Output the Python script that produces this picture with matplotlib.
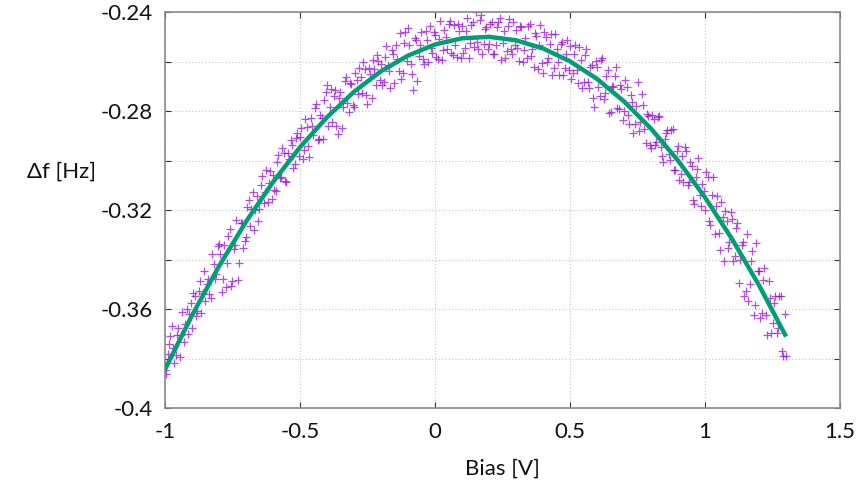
import matplotlib
matplotlib.use("Agg")
import matplotlib.pyplot as plt

plt.rcParams["font.family"] = ["Lato", "DejaVu Sans"]
plt.rcParams["axes.unicode_minus"] = False

# measured frequency shift vs bias (first sweep)
bias = [
    -1.00, -0.99, -0.98, -0.97, -0.96, -0.95, -0.94, -0.93, -0.92, -0.91,
    -0.90, -0.89, -0.88, -0.87, -0.86, -0.85, -0.84, -0.83, -0.82, -0.81,
    -0.80, -0.79, -0.78, -0.77, -0.76, -0.75, -0.74, -0.73, -0.72, -0.71,
    -0.70, -0.69, -0.68, -0.67, -0.66, -0.65, -0.64, -0.63, -0.62, -0.61,
    -0.60, -0.59, -0.58, -0.57, -0.56, -0.55, -0.54, -0.53, -0.52, -0.51,
    -0.50, -0.49, -0.48, -0.47, -0.46, -0.45, -0.44, -0.43, -0.42, -0.41,
    -0.40, -0.39, -0.38, -0.37, -0.36, -0.35, -0.34, -0.33, -0.32, -0.31,
    -0.30, -0.29, -0.28, -0.27, -0.26, -0.25, -0.24, -0.23, -0.22, -0.21,
    -0.20, -0.19, -0.18, -0.17, -0.16, -0.15, -0.14, -0.13, -0.12, -0.11,
    -0.10, -0.09, -0.08, -0.07, -0.06, -0.05, -0.04, -0.03, -0.02, -0.01,
    0.00, 0.01, 0.02, 0.03, 0.04, 0.05, 0.06, 0.07, 0.08, 0.09,
    0.10, 0.11, 0.12, 0.13, 0.14, 0.15, 0.16, 0.17, 0.18, 0.19,
    0.20, 0.21, 0.22, 0.23, 0.24, 0.25, 0.26, 0.27, 0.28, 0.29,
    0.30, 0.31, 0.32, 0.33, 0.34, 0.35, 0.36, 0.37, 0.38, 0.39,
    0.40, 0.41, 0.42, 0.43, 0.44, 0.45, 0.46, 0.47, 0.48, 0.49,
    0.50, 0.51, 0.52, 0.53, 0.54, 0.55, 0.56, 0.57, 0.58, 0.59,
    0.60, 0.61, 0.62, 0.63, 0.64, 0.65, 0.66, 0.67, 0.68, 0.69,
    0.70, 0.71, 0.72, 0.73, 0.74, 0.75, 0.76, 0.77, 0.78, 0.79,
    0.80, 0.81, 0.82, 0.83, 0.84, 0.85, 0.86, 0.87, 0.88, 0.89,
    0.90, 0.91, 0.92, 0.93, 0.94, 0.95, 0.96, 0.97, 0.98, 0.99,
    1.00, 1.01, 1.02, 1.03, 1.04, 1.05, 1.06, 1.07, 1.08, 1.09,
    1.10, 1.11, 1.12, 1.13, 1.14, 1.15, 1.16, 1.17, 1.18, 1.19,
    1.20, 1.21, 1.22, 1.23, 1.24, 1.25, 1.26, 1.27, 1.28, 1.29, 1.30,
]
df = [
    -0.3844, -0.3782, -0.3710, -0.3759, -0.3787, -0.3675, -0.3703, -0.3731, -0.3600, -0.3618,
    -0.3676, -0.3546, -0.3606, -0.3486, -0.3536, -0.3567, -0.3477, -0.3557, -0.3417, -0.3457,
    -0.3337, -0.3529, -0.3341, -0.3413, -0.3275, -0.3487, -0.3339, -0.3481, -0.3253, -0.3355,
    -0.3307, -0.3161, -0.3195, -0.3279, -0.3143, -0.3197, -0.3061, -0.3125, -0.3169, -0.3043,
    -0.3057, -0.3123, -0.2979, -0.3065, -0.2971, -0.3086, -0.2992, -0.2938, -0.3014, -0.2890,
    -0.2906, -0.2994, -0.2832, -0.2940, -0.2828, -0.2896, -0.2773, -0.2911, -0.2829, -0.2757,
    -0.2695, -0.2785, -0.2844, -0.2714, -0.2894, -0.2724, -0.2783, -0.2663, -0.2803, -0.2692,
    -0.2782, -0.2674, -0.2626, -0.2727, -0.2629, -0.2771, -0.2652, -0.2594, -0.2696, -0.2597,
    -0.2609, -0.2683, -0.2536, -0.2640, -0.2554, -0.2687, -0.2591, -0.2485, -0.2648, -0.2482,
    -0.2466, -0.2611, -0.2716, -0.2512, -0.2577, -0.2482, -0.2608, -0.2513, -0.2458, -0.2564,
    -0.2491, -0.2588, -0.2436, -0.2553, -0.2501, -0.2448, -0.2566, -0.2453, -0.2581, -0.2478,
    -0.2456, -0.2545, -0.2424, -0.2523, -0.2442, -0.2401, -0.2551, -0.2410, -0.2530, -0.2460,
    -0.2530, -0.2440, -0.2571, -0.2462, -0.2423, -0.2525, -0.2586, -0.2458, -0.2550, -0.2442,
    -0.2474, -0.2596, -0.2459, -0.2552, -0.2585, -0.2448, -0.2551, -0.2485, -0.2629, -0.2453,
    -0.2647, -0.2501, -0.2586, -0.2490, -0.2625, -0.2550, -0.2656, -0.2521, -0.2627, -0.2513,
    -0.2539, -0.2645, -0.2532, -0.2688, -0.2595, -0.2682, -0.2549, -0.2707, -0.2614, -0.2782,
    -0.2620, -0.2738, -0.2587, -0.2725, -0.2634, -0.2803, -0.2702, -0.2622, -0.2791, -0.2711,
    -0.2801, -0.2701, -0.2852, -0.2762, -0.2853, -0.2684, -0.2845, -0.2776, -0.2927, -0.2819,
    -0.2951, -0.2833, -0.2925, -0.2818, -0.2980, -0.2913, -0.2876, -0.2999, -0.2873, -0.3036,
    -0.2940, -0.3054, -0.3088, -0.2962, -0.3087, -0.3022, -0.3177, -0.3032, -0.3137, -0.3093,
    -0.3199, -0.3065, -0.3262, -0.3068, -0.3185, -0.3292, -0.3169, -0.3406, -0.3243, -0.3330,
    -0.3237, -0.3385, -0.3253, -0.3402, -0.3330, -0.3528, -0.3567, -0.3406, -0.3625, -0.3334,
    -0.3444, -0.3614, -0.3434, -0.3704, -0.3555, -0.3655, -0.3546, -0.3677, -0.3548, -0.3790, -0.3791,
]

# second sweep, interleaved bias points
bias2 = [
    -0.995, -0.985, -0.975, -0.965, -0.955, -0.945, -0.935, -0.925, -0.915, -0.905,
    -0.895, -0.885, -0.875, -0.865, -0.855, -0.845, -0.835, -0.825, -0.815, -0.805,
    -0.795, -0.785, -0.775, -0.765, -0.755, -0.745, -0.735, -0.725, -0.715, -0.705,
    -0.695, -0.685, -0.675, -0.665, -0.655, -0.645, -0.635, -0.625, -0.615, -0.605,
    -0.595, -0.585, -0.575, -0.565, -0.555, -0.545, -0.535, -0.525, -0.515, -0.505,
    -0.495, -0.485, -0.475, -0.465, -0.455, -0.445, -0.435, -0.425, -0.415, -0.405,
    -0.395, -0.385, -0.375, -0.365, -0.355, -0.345, -0.335, -0.325, -0.315, -0.305,
    -0.295, -0.285, -0.275, -0.265, -0.255, -0.245, -0.235, -0.225, -0.215, -0.205,
    -0.195, -0.185, -0.175, -0.165, -0.155, -0.145, -0.135, -0.125, -0.115, -0.105,
    -0.095, -0.085, -0.075, -0.065, -0.055, -0.045, -0.035, -0.025, -0.015, -0.005,
    0.005, 0.015, 0.025, 0.035, 0.045, 0.055, 0.065, 0.075, 0.085, 0.095,
    0.105, 0.115, 0.125, 0.135, 0.145, 0.155, 0.165, 0.175, 0.185, 0.195,
    0.205, 0.215, 0.225, 0.235, 0.245, 0.255, 0.265, 0.275, 0.285, 0.295,
    0.305, 0.315, 0.325, 0.335, 0.345, 0.355, 0.365, 0.375, 0.385, 0.395,
    0.405, 0.415, 0.425, 0.435, 0.445, 0.455, 0.465, 0.475, 0.485, 0.495,
    0.505, 0.515, 0.525, 0.535, 0.545, 0.555, 0.565, 0.575, 0.585, 0.595,
    0.605, 0.615, 0.625, 0.635, 0.645, 0.655, 0.665, 0.675, 0.685, 0.695,
    0.705, 0.715, 0.725, 0.735, 0.745, 0.755, 0.765, 0.775, 0.785, 0.795,
    0.805, 0.815, 0.825, 0.835, 0.845, 0.855, 0.865, 0.875, 0.885, 0.895,
    0.905, 0.915, 0.925, 0.935, 0.945, 0.955, 0.965, 0.975, 0.985, 0.995,
    1.005, 1.015, 1.025, 1.035, 1.045, 1.055, 1.065, 1.075, 1.085, 1.095,
    1.105, 1.115, 1.125, 1.135, 1.145, 1.155, 1.165, 1.175, 1.185, 1.195,
    1.205, 1.215, 1.225, 1.235, 1.245, 1.255, 1.265, 1.275, 1.285, 1.295,
]
df2 = [
    -0.3863, -0.3741, -0.3670, -0.3818, -0.3706, -0.3794, -0.3612, -0.3661, -0.3699, -0.3577,
    -0.3536, -0.3626, -0.3526, -0.3616, -0.3447, -0.3497, -0.3537, -0.3377, -0.3477, -0.3347,
    -0.3378, -0.3480, -0.3512, -0.3304, -0.3506, -0.3358, -0.3240, -0.3412, -0.3254, -0.3326,
    -0.3189, -0.3263, -0.3127, -0.3201, -0.3245, -0.3099, -0.3173, -0.3037, -0.3091, -0.3155,
    -0.3120, -0.3006, -0.3072, -0.2948, -0.3083, -0.2969, -0.2915, -0.3031, -0.2907, -0.2983,
    -0.2870, -0.2958, -0.2866, -0.2984, -0.2862, -0.2789, -0.2917, -0.2815, -0.2913, -0.2721,
    -0.2860, -0.2710, -0.2739, -0.2859, -0.2749, -0.2868, -0.2678, -0.2768, -0.2688, -0.2777,
    -0.2648, -0.2730, -0.2662, -0.2603, -0.2735, -0.2627, -0.2748, -0.2630, -0.2572, -0.2673,
    -0.2696, -0.2580, -0.2613, -0.2707, -0.2571, -0.2534, -0.2638, -0.2672, -0.2525, -0.2599,
    -0.2534, -0.2649, -0.2504, -0.2680, -0.2535, -0.2590, -0.2476, -0.2601, -0.2546, -0.2482,
    -0.2580, -0.2507, -0.2595, -0.2472, -0.2550, -0.2437, -0.2575, -0.2532, -0.2450, -0.2587,
    -0.2566, -0.2475, -0.2584, -0.2453, -0.2542, -0.2521, -0.2430, -0.2570, -0.2470, -0.2550,
    -0.2450, -0.2570, -0.2531, -0.2442, -0.2594, -0.2475, -0.2557, -0.2429, -0.2571, -0.2533,
    -0.2545, -0.2457, -0.2600, -0.2503, -0.2456, -0.2579, -0.2623, -0.2497, -0.2531, -0.2605,
    -0.2479, -0.2603, -0.2528, -0.2653, -0.2488, -0.2603, -0.2528, -0.2654, -0.2570, -0.2636,
    -0.2672, -0.2568, -0.2635, -0.2542, -0.2708, -0.2575, -0.2683, -0.2620, -0.2748, -0.2596,
    -0.2704, -0.2593, -0.2751, -0.2660, -0.2809, -0.2698, -0.2657, -0.2787, -0.2696, -0.2836,
    -0.2676, -0.2817, -0.2737, -0.2888, -0.2779, -0.2880, -0.2731, -0.2872, -0.2813, -0.2935,
    -0.2817, -0.2939, -0.2822, -0.2944, -0.3007, -0.2890, -0.2973, -0.2876, -0.3040, -0.2963,
    -0.3077, -0.2981, -0.2945, -0.3100, -0.3005, -0.3160, -0.3065, -0.2990, -0.3185, -0.3121,
    -0.3047, -0.3244, -0.3140, -0.3297, -0.3144, -0.3361, -0.3228, -0.3205, -0.3352, -0.3209,
    -0.3406, -0.3274, -0.3493, -0.3341, -0.3549, -0.3298, -0.3497, -0.3366, -0.3585, -0.3444,
    -0.3634, -0.3484, -0.3624, -0.3485, -0.3695, -0.3576, -0.3697, -0.3548, -0.3769, -0.3620,
]

# fitted curve
fit_bias = [-1.0, -0.9, -0.8, -0.7, -0.6, -0.5, -0.4, -0.3, -0.2, -0.1, 0.0, 0.1,
            0.2, 0.3, 0.4, 0.5, 0.6, 0.7, 0.8, 0.9, 1.0, 1.1, 1.2, 1.3]
fit_df = [-0.3844, -0.3626, -0.3427, -0.3247, -0.3087, -0.2946, -0.2825, -0.2722,
          -0.2639, -0.2576, -0.2531, -0.2506, -0.2500, -0.2514, -0.2547, -0.2599,
          -0.2670, -0.2761, -0.2871, -0.3000, -0.3149, -0.3317, -0.3504, -0.3711]

xticks = [-1, -0.5, 0, 0.5, 1, 1.5]
xtick_labels = ["-1", "-0.5", "0", "0.5", "1", "1.5"]
yticks = [-0.40, -0.38, -0.36, -0.34, -0.32, -0.30, -0.28, -0.26, -0.24]
ytick_labels = ["-0.4", "", "-0.36", "", "-0.32", "", "-0.28", "", "-0.24"]

fig = plt.figure(figsize=(8.59, 4.83), dpi=100)
ax = fig.add_axes([0.192, 0.155, 0.786, 0.82])

for xs, ys in [(bias, df), (bias2, df2)]:
    ax.plot(xs, ys, linestyle="none", marker="+", color="#9400d3",
            markersize=5.5, markeredgewidth=0.9, alpha=0.7, zorder=2)
ax.plot(fit_bias, fit_df, color="#009e73", linewidth=3.2,
        solid_capstyle="butt", zorder=3)

ax.set_xlim(-1, 1.5)
ax.set_ylim(-0.4, -0.24)
ax.set_xticks(xticks)
ax.set_xticklabels(xtick_labels)
ax.set_yticks(yticks)
ax.set_yticklabels(ytick_labels)

ax.grid(True, linestyle=(0, (1, 2)), color="#c4c4c4", linewidth=0.8)
ax.tick_params(direction="in", top=True, right=True, length=4,
               color="#333333", labelsize=16, labelcolor="#111111")
ax.tick_params(axis="x", pad=10)
ax.tick_params(axis="y", pad=9)
for s in ax.spines.values():
    s.set_color("#8a8a8a")
    s.set_linewidth(1.2)

ax.set_xlabel("Bias [V]", fontsize=16, color="#111111")
ax.xaxis.set_label_coords(0.5, -0.152)
ax.xaxis.label.set_verticalalignment("center")
ax.set_ylabel("Δf [Hz]", fontsize=16, color="#111111", rotation=0)
ax.yaxis.set_label_coords(-0.153, 0.596)
ax.yaxis.label.set_verticalalignment("center")

fig.savefig("out.png", dpi=100)
